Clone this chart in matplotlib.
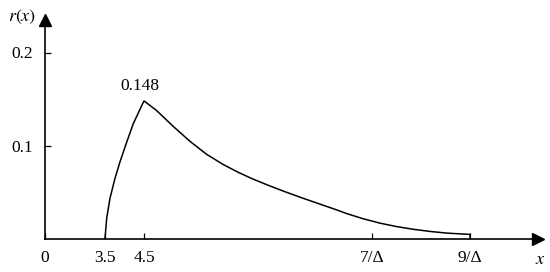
import matplotlib

matplotlib.use("Agg")

import matplotlib.pyplot as plt

plt.rcParams["font.family"] = ["Liberation Serif", "DejaVu Serif"]
plt.rcParams["mathtext.fontset"] = "stix"

# curve (x in the chart's own stretched axis units)
rise_x = [3.5, 3.544, 3.628, 3.756, 3.885, 4.056, 4.226, 4.5]
rise_y = [0.0, 0.0217, 0.0432, 0.0646, 0.0825, 0.1035, 0.1235, 0.148]
decay_x = [4.5, 4.826, 5.251, 5.679, 6.107, 6.533, 6.9, 7.262, 7.687, 8.115,
           8.543, 8.969, 9.397, 9.697, 10.123, 10.551, 10.979, 11.405, 11.833,
           12.262, 12.815, 12.86, 12.86]
decay_y = [0.148, 0.1375, 0.1205, 0.1045, 0.0905, 0.0795, 0.0715, 0.0645, 0.0572,
           0.0503, 0.0438, 0.0376, 0.0314, 0.0268, 0.0212, 0.0165, 0.0128, 0.0099,
           0.0076, 0.0058, 0.0045, 0.0045, 0.0]

x_ticks = [1.962, 3.5, 4.5, 10.35, 12.86]
x_labels = ["0", "3.5", "4.5", "7/Δ", "9/Δ"]
y_ticks = [0.1, 0.2]
y_labels = ["0.1", "0.2"]
peak_label = "0.148"

W, H = 550, 272
fig = plt.figure(figsize=(W / 100, H / 100), dpi=100)
ax = fig.add_axes([45 / W, (H - 238.5) / H, (538 - 45) / W, (238.5 - 20) / H])

ax.plot(rise_x + decay_x[1:], rise_y + decay_y[1:], color="black", lw=1.1,
        solid_joinstyle="miter")

ax.set_xlim(1.962, 4.5 + (538 - 144) / 39)
ax.set_ylim(0, (238.5 - 20) / 930)

for side in ("top", "right"):
    ax.spines[side].set_visible(False)
for side in ("left", "bottom"):
    ax.spines[side].set_linewidth(1.2)

# arrow heads on the axes
ax.plot(1, 0, ">", color="black", ms=9, transform=ax.transAxes, clip_on=False)
ax.plot(0, 1, "^", color="black", ms=9, transform=ax.transAxes, clip_on=False)

ax.set_xticks(x_ticks, x_labels)
ax.set_yticks(y_ticks, y_labels)
ax.tick_params(axis="both", direction="in", length=4, width=0.9, labelsize=12.5)
ax.tick_params(axis="x", pad=8)
ax.tick_params(axis="y", pad=9)

ax.annotate(peak_label, (4.5, 0.148), xytext=(-3, 5), textcoords="offset points",
            ha="center", va="bottom", fontsize=12.5)

fig.text(8 / W, 1 - 17 / H, "$r(x)$", fontsize=13, ha="left", va="center")
fig.text(540 / W, 1 - 260 / H, "$x$", fontsize=13, ha="center", va="center")

fig.savefig("out.png", dpi=100)
